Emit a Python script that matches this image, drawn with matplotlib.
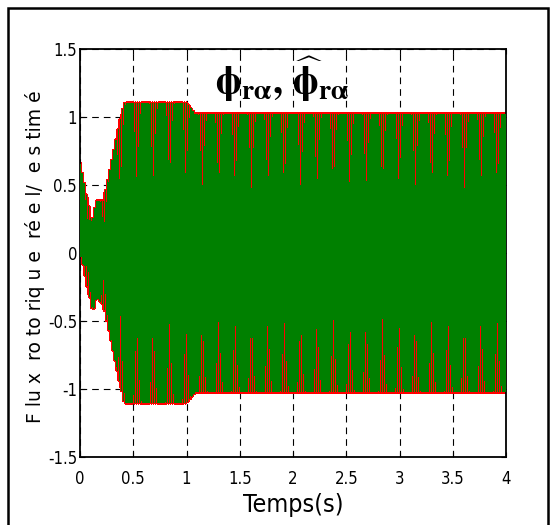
import matplotlib
matplotlib.use("Agg")
import matplotlib.pyplot as plt
import numpy as np
from matplotlib.patches import Rectangle

# envelope of the rotor flux (time in s)
env_t = [0.0, 0.03, 0.11, 0.125, 0.155, 0.22, 0.41, 0.43, 1.0, 1.08, 4.0]
env_upper = [0.65, 0.55, 0.21, 0.27, 0.38, 0.38, 1.09, 1.10, 1.10, 1.02, 1.02]
env_lower = [0.0, -0.08, -0.40, -0.42, -0.32, -0.38, -1.08, -1.10, -1.10, -1.02, -1.02]
supply_freq = 50.0  # Hz

x_ticks = [0, 0.5, 1, 1.5, 2, 2.5, 3, 3.5, 4]
x_labels = ["0", "0.5", "1", "1.5", "2", "2.5", "3", "3.5", "4"]
y_ticks = [-1.5, -1, -0.5, 0, 0.5, 1, 1.5]
y_labels = ["-1.5", "-1", "-0.5", "0", "0.5", "1", "1.5"]

plt.rcParams["font.family"] = ["DejaVu Sans"]
plt.rcParams["font.stretch"] = "condensed"
plt.rcParams["mathtext.fontset"] = "stix"

t = np.linspace(0, 4, 40001)
up = np.interp(t, env_t, env_upper)
lo = np.interp(t, env_t, env_lower)
flux = (up + lo) / 2 + (up - lo) / 2 * np.sin(2 * np.pi * supply_freq * t + np.pi / 2)

fig = plt.figure(figsize=(5.55, 5.25), dpi=100)
ax = fig.add_axes([80 / 555, 68 / 525, 426 / 555, 408 / 525])

ax.plot(t, flux, color="#ff0000", lw=2.2, zorder=2, antialiased=False)
ax.plot(t, flux, color="#008000", lw=0.35, zorder=3, antialiased=False, snap=False)

ax.set_xlim(0, 4)
ax.set_ylim(-1.5, 1.5)
ax.set_xticks(x_ticks)
ax.set_xticklabels(x_labels)
ax.set_yticks(y_ticks)
ax.set_yticklabels(y_labels)
ax.set_axisbelow(True)
ax.grid(True, color="black", lw=0.8, linestyle=(0, (6, 4.5)))
ax.tick_params(direction="in", length=3.6, width=0.8, top=True, right=True, labelsize=12)
ax.tick_params(axis="x", pad=9.5)
ax.tick_params(axis="y", pad=2)
for sp in ax.spines.values():
    sp.set_linewidth(1.3)

ax.set_xlabel("Temps(s)", fontsize=18)
ax.xaxis.set_label_coords(0.5, -0.088)
ax.set_ylabel("F lu x  ro to riq u e  ré e l/  e s tim é", fontsize=13.5, fontstretch="normal")
ax.yaxis.set_label_coords(-0.083, 0.49)

ax.text(1.90, 1.28, r"$\mathbf{\phi_{r\alpha},\,\widehat{\phi}_{r\alpha}}$",
        fontsize=28, ha="center", va="center", zorder=5)

# black frame around the whole figure (open at the bottom)
fig.patches.append(Rectangle((8 / 555, -0.05), 540 / 555, 1.05 - 8 / 525,
                             transform=fig.transFigure, fill=False,
                             edgecolor="black", lw=1.8))

fig.savefig("out.png", dpi=100)
plt.close(fig)
